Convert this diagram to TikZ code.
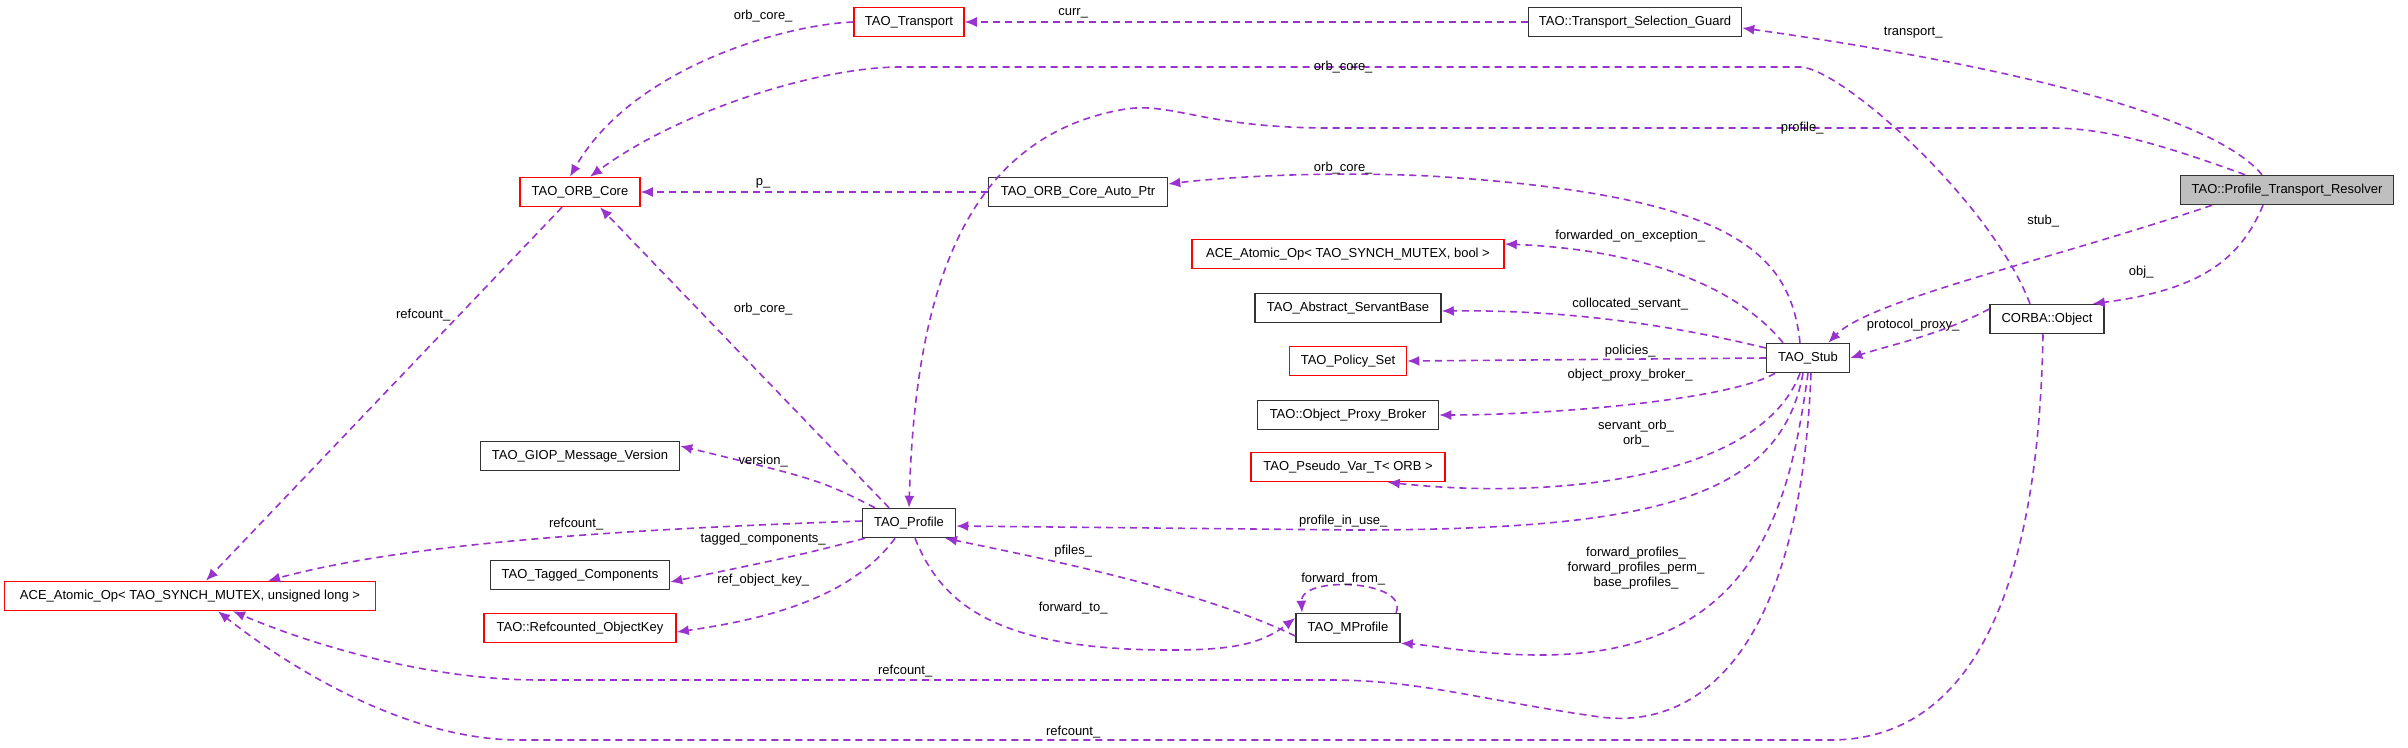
\documentclass[tikz,border=0pt]{standalone}
\usepackage{fontspec}
\setmainfont{Liberation Sans}
\usetikzlibrary{arrows.meta}
\definecolor{edgepurple}{HTML}{9A32CD}
\definecolor{boxred}{HTML}{FF0000}
\definecolor{resgrey}{HTML}{BFBFBF}
\begin{document}
\begin{tikzpicture}[
		x = 1pt, y = -1pt,
		font = \fontsize{13}{15}\selectfont,
		box/.style = { draw, line width = 1.5pt, minimum height = 29pt, inner sep = 2pt },
		redbox/.style = { box, draw = boxred },
		blackbox/.style = { box, draw = black!80 },
		rel/.style = { draw = edgepurple, line width = 1.6pt, dash pattern = on 7pt off 5pt, -{Latex[length=12pt,width=10pt]} },
		lbl/.style = { inner sep = 1pt, align = center }
	]
	\useasboundingbox (0,0) rectangle (2408,747);
	% classes
	\node [redbox, minimum width = 110pt] (tr) at (909,22) { TAO\_Transport };
	\node [blackbox, minimum width = 213pt] (tsg) at (1635,22) { TAO::Transport\_Selection\_Guard };
	\node [redbox, minimum width = 120pt] (oc) at (580,192) { TAO\_ORB\_Core };
	\node [blackbox, minimum width = 179pt] (ap) at (1078,192) { TAO\_ORB\_Core\_Auto\_Ptr };
	\node [blackbox, fill = resgrey, minimum width = 213pt] (res) at (2287,190) { TAO::Profile\_Transport\_Resolver };
	\node [redbox, minimum width = 312pt] (acb) at (1348,254) { ACE\_Atomic\_Op< TAO\_SYNCH\_MUTEX, bool > };
	\node [blackbox, minimum width = 186pt] (asb) at (1348,308) { TAO\_Abstract\_ServantBase };
	\node [blackbox, minimum width = 114pt] (obj) at (2047,319) { CORBA::Object };
	\node [blackbox, minimum width = 83pt] (st) at (1808,358) { TAO\_Stub };
	\node [redbox, minimum width = 117pt] (ps) at (1348,361) { TAO\_Policy\_Set };
	\node [blackbox, minimum width = 181pt] (opb) at (1348,415) { TAO::Object\_Proxy\_Broker };
	\node [redbox, minimum width = 194pt] (pv) at (1348,467) { TAO\_Pseudo\_Var\_T< ORB > };
	\node [blackbox, minimum width = 104pt] (mp) at (1348,628) { TAO\_MProfile };
	\node [blackbox, minimum width = 199pt] (giop) at (580,456) { TAO\_GIOP\_Message\_Version };
	\node [blackbox, minimum width = 93pt] (pr) at (909,523) { TAO\_Profile };
	\node [redbox, minimum width = 371pt] (acu) at (190,596) { ACE\_Atomic\_Op< TAO\_SYNCH\_MUTEX, unsigned long > };
	\node [blackbox, minimum width = 179pt] (tc) at (580,575) { TAO\_Tagged\_Components };
	\node [redbox, minimum width = 192pt] (rok) at (580,628) { TAO::Refcounted\_ObjectKey };
	% relations
	\draw [rel] (tsg.west) -- (tr.east);
	\draw [rel] (tr.west) .. controls (780,25) and (630,70) .. ([xshift=-10pt]oc.north);
	\draw [rel] ([xshift=-17pt]obj.north) .. controls (1990,200) and (1840,67) .. (1800,67) -- (900,67) .. controls (820,67) and (680,110) .. ([xshift=10pt]oc.north);
	\draw [rel] ([xshift=-25pt]res.north) .. controls (2200,100) and (1900,50) .. ([yshift=-6pt]tsg.east);
	\draw [rel] ([xshift=-42pt]res.north) .. controls (2150,140) and (2100,128) .. (2050,128) -- (1330,128) .. controls (1200,128) and (1170,100) .. (1120,110) .. controls (960,140) and (915,300) .. (pr.north);
	\draw [rel] (ap.west) -- (oc.east);
	\draw [rel] ([xshift=-8pt]st.north) .. controls (1790,250) and (1730,195) .. (1430,176) .. controls (1300,170) and (1200,180) .. ([yshift=8pt]ap.east);
	\draw [rel] ([xshift=-25pt]st.north) .. controls (1740,290) and (1650,250) .. ([yshift=10pt]acb.east);
	\draw [rel] ([yshift=10pt]st.west) .. controls (1650,320) and (1550,310) .. ([yshift=-3pt]asb.east);
	\draw [rel] (st.west) -- (ps.east);
	\draw [rel] ([xshift=-33pt]st.south) .. controls (1730,400) and (1550,415) .. (opb.east);
	\draw [rel] ([xshift=-8pt]st.south) .. controls (1760,480) and (1550,500) .. ([xshift=-58pt]pv.south east);
	\draw [rel] ([xshift=-5pt]st.south) .. controls (1780,500) and (1650,530) .. (1350,530) -- ([yshift=-3pt]pr.east);
	\draw [rel] (st.south) .. controls (1790,500) and (1760,655) .. (1540,655) .. controls (1480,655) and (1430,645) .. (mp.south east);
	\draw [rel] ([xshift=3pt]st.south) .. controls (1800,650) and (1700,730) .. (1600,717) .. controls (1480,700) and (1420,680) .. (1330,680) -- (540,680) .. controls (420,680) and (300,640) .. ([xshift=43pt]acu.south);
	\draw [rel] ([xshift=-75pt]res.south) .. controls (2050,260) and (1870,300) .. ([xshift=-22pt]st.north east);
	\draw [rel] ([xshift=-24pt]res.south) .. controls (2240,260) and (2200,290) .. ([xshift=-12pt]obj.north east);
	\draw [rel] ([yshift=10pt]obj.west) .. controls (1940,335) and (1890,345) .. (st.east);
	\draw [rel] ([xshift=-4pt]obj.south) .. controls (2040,500) and (2010,740) .. (1830,740) -- (520,740) .. controls (400,740) and (280,660) .. ([xshift=28pt]acu.south);
	\draw [rel] ([xshift=-18pt]oc.south) -- ([xshift=16pt]acu.north);
	\draw [rel] ([xshift=-20pt]pr.north) -- ([xshift=20pt]oc.south);
	\draw [rel] ([xshift=-34pt]pr.north) .. controls (820,480) .. ([yshift=10pt]giop.east);
	\draw [rel] ([yshift=2pt]pr.west) .. controls (600,530) and (400,545) .. ([xshift=78pt]acu.north);
	\draw [rel] ([xshift=-44pt]pr.south) .. controls (800,555) .. ([yshift=-7pt]tc.east);
	\draw [rel] ([xshift=-14pt]pr.south) .. controls (850,600) and (760,620) .. ([yshift=-4pt]rok.east);
	\draw [rel] ([xshift=6pt]pr.south) .. controls (940,600) and (990,650) .. (1170,650) .. controls (1230,650) and (1260,645) .. ([yshift=10pt]mp.west);
	\draw [rel] ([yshift=-8pt]mp.west) .. controls (1200,590) and (1050,560) .. ([xshift=36pt]pr.south);
	\draw [rel] ([xshift=48pt]mp.north) .. controls (1410,580) and (1300,575) .. ([xshift=-46pt]mp.north);
	% labels
	\node [lbl] (lcurr) at (1075,13) { curr\_ };
	\node [lbl] (loc1) at (765,16) { orb\_core\_ };
	\node [lbl] (ltransport) at (1915,33) { transport\_ };
	\node [lbl] (loc2) at (1345,67) { orb\_core\_ };
	\node [lbl] (lprofile) at (1804,128) { profile\_ };
	\node [lbl] (loc3) at (1345,168) { orb\_core\_ };
	\node [lbl] (lp) at (765,183) { p\_ };
	\node [lbl] (lstub) at (2045,221) { stub\_ };
	\node [lbl] (lfwd) at (1632,236) { forwarded\_on\_exception\_ };
	\node [lbl] (lobj) at (2143,272) { obj\_ };
	\node [lbl] (lcoll) at (1632,304) { collocated\_servant\_ };
	\node [lbl] (lref1) at (425,315) { refcount\_ };
	\node [lbl] (loc4) at (765,309) { orb\_core\_ };
	\node [lbl] (lproto) at (1915,325) { protocol\_proxy\_ };
	\node [lbl] (lpol) at (1632,351) { policies\_ };
	\node [lbl] (lopb) at (1632,375) { object\_proxy\_broker\_ };
	\node [lbl] (lorb) at (1636,434) { servant\_orb\_\\orb\_ };
	\node [lbl] (lver) at (765,461) { version\_ };
	\node [lbl] (liu) at (1345,521) { profile\_in\_use\_ };
	\node [lbl] (lref2) at (578,524) { refcount\_ };
	\node [lbl] (ltag) at (765,539) { tagged\_components\_ };
	\node [lbl] (lpf) at (1075,551) { pfiles\_ };
	\node [lbl] (lfps) at (1636,568) { forward\_profiles\_\\forward\_profiles\_perm\_\\base\_profiles\_ };
	\node [lbl] (lff) at (1345,579) { forward\_from\_ };
	\node [lbl] (lrok) at (765,580) { ref\_object\_key\_ };
	\node [lbl] (lft) at (1075,608) { forward\_to\_ };
	\node [lbl] (lref3) at (907,671) { refcount\_ };
	\node [lbl] (lref4) at (1075,732) { refcount\_ };
\end{tikzpicture}
\end{document}
